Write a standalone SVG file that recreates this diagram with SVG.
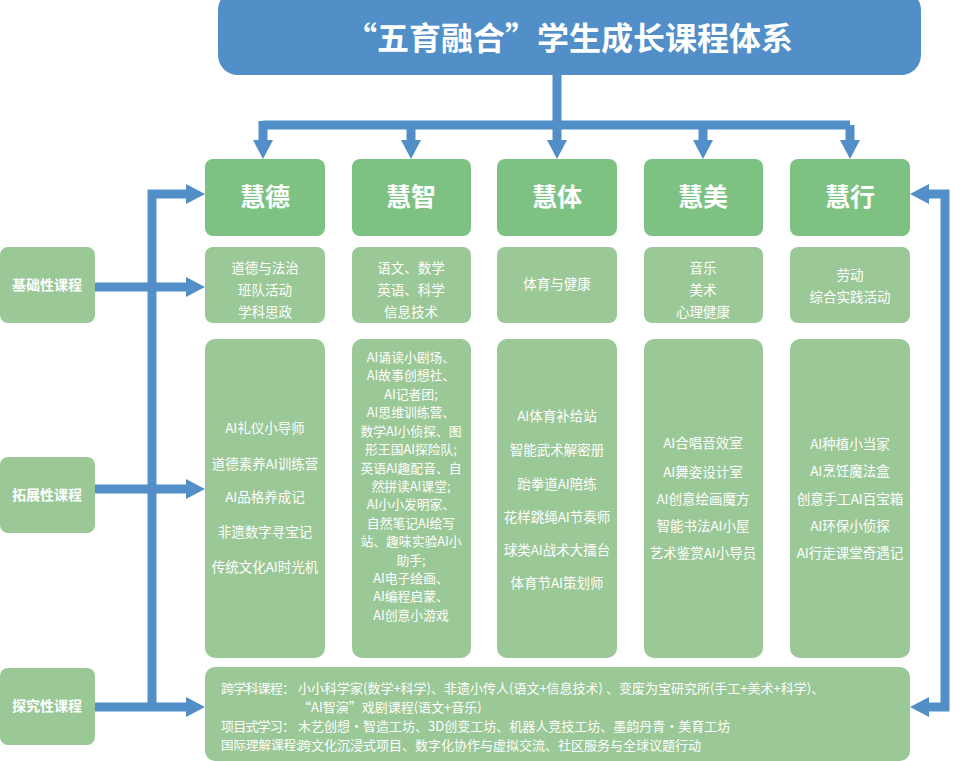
<svg xmlns="http://www.w3.org/2000/svg" width="960" height="761" viewBox="0 0 960 761">
<style>
.h{fill:#7dc283}.l{fill:#9bc897}
text{fill:#fff;font-family:"Noto Sans CJK SC","Noto Sans",sans-serif;text-anchor:middle}
.t{font-size:13.5px}.b{font-size:25px;font-weight:bold}.s{font-size:14px;font-weight:bold}
#e2 .t{font-size:12.8px}
.c{stroke:#528fc8;stroke-width:9;fill:none}
.a{fill:#528fc8}
.r text{text-anchor:start;font-size:13px}
</style>
<rect width="960" height="761" fill="#fff"/>
<g id="connectors">
<path class="c" d="M557 75V125M263 125H850M263 121V142M411 125V142M557 125V142M703 125V142M850 125V142"/>
<path class="a" d="M253 140h20l-10 19zM401 140h20l-10 19zM547 140h20l-10 19zM693 140h20l-10 19zM840 140h20l-10 19z"/>
<path class="c" d="M152 707V194H188M95 287H188M95 489H188M95 707H188"/>
<path class="a" d="M186 184v20l19-10zM186 277v20l19-10zM186 479v20l19-10zM186 697v20l19-10z"/>
<path class="c" d="M927 194H945V707H927"/>
<path class="a" d="M929 184v20l-19-10zM929 697v20l-19-10z"/>
</g>
<g id="title"><rect x="218" y="-10" width="703" height="85" rx="20" fill="#528fc8"/><text x="569" y="50" style="font-size:32px;font-weight:bold">“五育融合”学生成长课程体系</text></g>
<g id="left">
<g id="l1"><rect class="l" x="0" y="247" width="95" height="76" rx="8"/><text class="s" x="47" y="290">基础性课程</text></g>
<g id="l2"><rect class="l" x="0" y="457" width="95" height="76" rx="8"/><text class="s" x="47" y="500">拓展性课程</text></g>
<g id="l3"><rect class="l" x="0" y="668" width="95" height="77" rx="8"/><text class="s" x="47" y="711">探究性课程</text></g>
</g>
<g id="heads">
<g id="h1"><rect class="h" x="205" y="159" width="120" height="77" rx="8"/><text class="b" x="265" y="206">慧德</text></g>
<g id="h2"><rect class="h" x="352" y="159" width="119" height="77" rx="8"/><text class="b" x="411" y="206">慧智</text></g>
<g id="h3"><rect class="h" x="497" y="159" width="120" height="77" rx="8"/><text class="b" x="557" y="206">慧体</text></g>
<g id="h4"><rect class="h" x="644" y="159" width="119" height="77" rx="8"/><text class="b" x="703" y="206">慧美</text></g>
<g id="h5"><rect class="h" x="790" y="159" width="120" height="77" rx="8"/><text class="b" x="850" y="206">慧行</text></g>
</g>
<g id="row1">
<g id="b1"><rect class="l" x="205" y="247" width="120" height="76" rx="8"/><text class="t" x="265" y="273">道德与法治</text><text class="t" x="265" y="295">班队活动</text><text class="t" x="265" y="317">学科思政</text></g>
<g id="b2"><rect class="l" x="352" y="247" width="119" height="76" rx="8"/><text class="t" x="411" y="273">语文、数学</text><text class="t" x="411" y="295">英语、科学</text><text class="t" x="411" y="317">信息技术</text></g>
<g id="b3"><rect class="l" x="497" y="247" width="120" height="76" rx="8"/><text class="t" x="557" y="289">体育与健康</text></g>
<g id="b4"><rect class="l" x="644" y="247" width="119" height="76" rx="8"/><text class="t" x="703" y="273">音乐</text><text class="t" x="703" y="295">美术</text><text class="t" x="703" y="317">心理健康</text></g>
<g id="b5"><rect class="l" x="790" y="247" width="120" height="76" rx="8"/><text class="t" x="850" y="280">劳动</text><text class="t" x="850" y="302">综合实践活动</text></g>
</g>
<g id="row2">
<g id="e1"><rect class="l" x="205" y="339" width="120" height="319" rx="10"/>
<text class="t" x="265" y="433">AI礼仪小导师</text><text class="t" x="265" y="469">道德素养AI训练营</text><text class="t" x="265" y="502">AI品格养成记</text><text class="t" x="265" y="537">非遗数字寻宝记</text><text class="t" x="265" y="572">传统文化AI时光机</text></g>
<g id="e2"><rect class="l" x="352" y="339" width="119" height="319" rx="10"/>
<text class="t" x="411" y="362">AI诵读小剧场、</text><text class="t" x="411" y="380">AI故事创想社、</text><text class="t" x="411" y="399">AI记者团;</text><text class="t" x="411" y="417">AI思维训练营、</text><text class="t" x="411" y="436">数学AI小侦探、图</text><text class="t" x="411" y="454">形王国AI探险队;</text><text class="t" x="411" y="473">英语AI趣配音、自</text><text class="t" x="411" y="491">然拼读AI课堂;</text><text class="t" x="411" y="509">AI小小发明家、</text><text class="t" x="411" y="528">自然笔记AI绘写</text><text class="t" x="411" y="546">站、趣味实验AI小</text><text class="t" x="411" y="565">助手;</text><text class="t" x="411" y="583">AI电子绘画、</text><text class="t" x="411" y="601">AI编程启蒙、</text><text class="t" x="411" y="620">AI创意小游戏</text></g>
<g id="e3"><rect class="l" x="497" y="339" width="120" height="319" rx="10"/>
<text class="t" x="557" y="421">AI体育补给站</text><text class="t" x="557" y="455">智能武术解密册</text><text class="t" x="557" y="489">跆拳道AI陪练</text><text class="t" x="557" y="522">花样跳绳AI节奏师</text><text class="t" x="557" y="555">球类AI战术大擂台</text><text class="t" x="557" y="588">体育节AI策划师</text></g>
<g id="e4"><rect class="l" x="644" y="339" width="119" height="319" rx="10"/>
<text class="t" x="703" y="448">AI合唱音效室</text><text class="t" x="703" y="477">AI舞姿设计室</text><text class="t" x="703" y="504">AI创意绘画魔方</text><text class="t" x="703" y="531">智能书法AI小屋</text><text class="t" x="703" y="558">艺术鉴赏AI小导员</text></g>
<g id="e5"><rect class="l" x="790" y="339" width="120" height="319" rx="10"/>
<text class="t" x="850" y="449">AI种植小当家</text><text class="t" x="850" y="476">AI烹饪魔法盒</text><text class="t" x="850" y="504">创意手工AI百宝箱</text><text class="t" x="850" y="531">AI环保小侦探</text><text class="t" x="850" y="558">AI行走课堂奇遇记</text></g>
</g>
<g id="row3" class="r"><rect class="l" x="205" y="667" width="705" height="94" rx="10"/>
<text x="221" y="693" textLength="74" lengthAdjust="spacing">跨学科课程：</text><text x="298" y="693">小小科学家(数学+科学)、非遗小传人(语文+信息技术) 、变废为宝研究所(手工+美术+科学)、</text>
<text x="298" y="712">“AI智演”戏剧课程(语文+音乐)</text>
<text x="221" y="731" textLength="74" lengthAdjust="spacing">项目式学习：</text><text x="298" y="731">木艺创想·智造工坊、3D创变工坊、机器人竞技工坊、墨韵丹青·美育工坊</text>
<text x="221" y="750" style="font-size:12.5px">国际理解课程:</text><text x="298" y="750">跨文化沉浸式项目、数字化协作与虚拟交流、社区服务与全球议题行动</text>
</g>
</svg>
